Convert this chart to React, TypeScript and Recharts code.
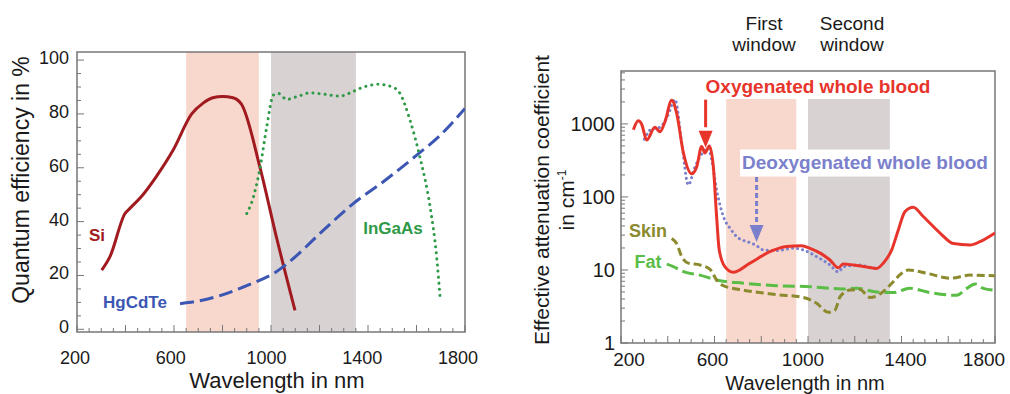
import React from "react";
import {
  LineChart,
  Line,
  XAxis,
  YAxis,
  ReferenceArea,
  ReferenceLine,
  ReferenceDot,
} from "recharts";

const FONT = '"Liberation Sans", Arial, Helvetica, sans-serif';

// ---- left chart: quantum efficiency (%) vs wavelength (nm)
const siCurve = [
  [302, 22], [336, 27], [398, 43], [419, 45], [472, 50], [529, 57],
  [596, 66.5], [673, 80], [720, 84], [760, 86], [800, 86.5], [843, 86],
  [879, 83.5], [955, 60], [1023, 34], [1099, 7],
];
const hgcdteCurve = [
  [625, 9.5], [700, 10.5], [790, 12.5], [880, 15.5], [955, 18.3],
  [1010, 20.7], [1092, 26.3], [1202, 35.6], [1339, 46.7], [1463, 54.8],
  [1601, 64.7], [1697, 72], [1800, 82],
];
const ingaasCurve = [
  [900, 43], [927, 49], [955, 60], [982, 75], [1010, 87], [1030, 87.6],
  [1065, 85.4], [1110, 86.5], [1161, 87.8], [1220, 87.3], [1285, 86.6],
  [1330, 88], [1367, 89.5], [1442, 91], [1500, 90], [1532, 87.6],
  [1573, 77.7], [1614, 64], [1656, 45.5], [1683, 27], [1697, 12],
];

// ---- right chart: attenuation coefficient (cm-1) vs wavelength (nm)
const oxyCurve = [
  [253, 830], [274, 1100], [288, 1000], [310, 600], [345, 900], [367, 780],
  [388, 1070], [417, 2100], [438, 1400], [467, 400], [502, 207], [524, 260],
  [545, 490], [559, 400], [578, 500], [595, 260], [609, 54], [620, 19],
  [645, 11], [680, 9.3], [752, 12.4], [837, 17.8], [909, 21], [973, 21.5],
  [1009, 19.8], [1058, 16.6], [1094, 13.7], [1130, 10.7], [1151, 12.1],
  [1194, 11.7], [1251, 11], [1294, 10.5], [1322, 12.4], [1358, 18.8],
  [1386, 35], [1415, 63], [1450, 72], [1493, 54], [1565, 32], [1622, 23],
  [1693, 22], [1736, 24.4], [1800, 32],
];
const deoxyCurve = [
  [300, 620], [330, 850], [367, 900], [400, 1300], [431, 2150], [460, 540],
  [488, 146], [515, 250], [538, 355], [573, 465], [588, 320], [609, 125],
  [638, 54], [670, 36], [695, 28.6], [752, 23.6], [775, 22], [809, 18.8],
  [866, 18.4], [937, 19.8], [980, 18.8], [1037, 15.2], [1094, 11.7],
  [1130, 9.4], [1151, 11], [1222, 11.7], [1279, 10.5], [1300, 10.8],
];
const skinCurve = [
  [417, 27], [438, 23], [460, 15.2], [488, 12.4], [538, 11.7], [581, 10.2],
  [609, 7.3], [638, 6.1], [723, 5.3], [866, 4.6], [980, 4.2], [1037, 3.5],
  [1087, 2.63], [1116, 2.83], [1137, 4.3], [1180, 5.3], [1222, 5.4],
  [1265, 4.2], [1294, 4.4], [1351, 6.2], [1401, 9], [1429, 10], [1508, 9],
  [1608, 7.7], [1693, 8.5], [1800, 8.3],
];
const fatCurve = [
  [396, 12], [424, 11.1], [467, 9.5], [538, 8.5], [609, 7.3], [723, 6.6],
  [866, 6.1], [1009, 5.9], [1151, 5.5], [1208, 5.6], [1294, 5], [1365, 4.9],
  [1436, 5.6], [1522, 4.9], [1636, 4.5], [1679, 5.6], [1715, 6.4],
  [1750, 5.6], [1800, 5.3],
];

const xTicks: number[] = [];
for (let v = 200; v <= 1800; v += 50) xTicks.push(v);
const qeTicks: number[] = [];
for (let v = 0; v <= 100; v += 5) qeTicks.push(v);
const logTicks = [
  1, 2, 3, 4, 5, 6, 7, 8, 9, 10, 20, 30, 40, 50, 60, 70, 80, 90, 100, 200,
  300, 400, 500, 600, 700, 800, 900, 1000, 2000, 3000, 4000, 5000,
];
const firstWindow = [650, 950];
const secondWindow = [1000, 1350];

const toPts = (c: number[][]) => c.map(([x, y]) => ({ x, y }));

const AXIS = "#777";
const TXT = "#1a1a1a";

function LeftXTick(p: any) {
  const { x, y, payload } = p;
  const v = payload.value;
  const major = v % 200 === 0;
  const shown = (v - 200) % 400 === 0;
  return (
    <g>
      <line x1={x} x2={x} y1={y} y2={y - (major ? 7 : 4)} stroke={AXIS} />
      {shown && (
        <text
          x={x - 2 - (5 * (v - 200)) / 1600}
          y={y + 26}
          textAnchor="middle"
          dominantBaseline="central"
          fontSize={18}
          fontFamily={FONT}
          fill={TXT}
        >
          {v}
        </text>
      )}
    </g>
  );
}

const rightShift: Record<number, number> = { 200: 8, 600: -2, 1000: -5, 1400: 4, 1800: -11 };

function RightXTick(p: any) {
  const { x, y, payload } = p;
  const v = payload.value;
  const major = v % 200 === 0;
  const shown = (v - 200) % 400 === 0;
  return (
    <g>
      <line x1={x} x2={x} y1={y} y2={y - (major ? 7 : 4)} stroke={AXIS} />
      {shown && (
        <text
          x={x + (rightShift[v] || 0)}
          y={y + 16}
          textAnchor="middle"
          dominantBaseline="central"
          fontSize={19}
          fontFamily={FONT}
          fill={TXT}
        >
          {v}
        </text>
      )}
    </g>
  );
}

function QeTick(p: any) {
  const { x, y, payload } = p;
  const v = payload.value;
  const major = v % 20 === 0;
  return (
    <g>
      <line x1={x} x2={x + (major ? 7 : 4)} y1={y} y2={y} stroke={AXIS} />
      {major && (
        <text
          x={x - 8}
          y={y - 2}
          textAnchor="end"
          dominantBaseline="central"
          fontSize={18}
          fontFamily={FONT}
          fill={TXT}
        >
          {v}
        </text>
      )}
    </g>
  );
}

function LogTick(p: any) {
  const { x, y, payload } = p;
  const v = payload.value;
  const major = [1, 10, 100, 1000].includes(v);
  return (
    <g>
      <line x1={x} x2={x + (major ? 7 : 4)} y1={y} y2={y} stroke={AXIS} />
      {major && (
        <text
          x={x - 6}
          y={y}
          textAnchor="end"
          dominantBaseline="central"
          fontSize={20}
          fontFamily={FONT}
          fill={TXT}
        >
          {v}
        </text>
      )}
    </g>
  );
}

function Txt({ x, y, color = TXT, size = 17, bold = false, rotate = false, bg, children }: any) {
  return (
    <div
      style={{
        position: "absolute",
        left: x,
        top: y,
        transform: `translate(-50%, -50%)${rotate ? " rotate(-90deg)" : ""}`,
        whiteSpace: "nowrap",
        fontFamily: FONT,
        fontSize: size,
        fontWeight: bold ? "bold" : "normal",
        color,
        lineHeight: 1.1,
        background: bg,
        textAlign: "center",
      }}
    >
      {children}
    </div>
  );
}

const arrowHead = (color: string) => (p: any) => {
  const { cx, cy } = p;
  return <polygon points={`${cx},${cy} ${cx - 7},${cy - 17} ${cx + 7},${cy - 17}`} fill={color} />;
};

export default function App() {
  return (
    <div
      style={{
        position: "absolute",
        left: 0,
        top: 0,
        width: 1010,
        height: 394,
        overflow: "hidden",
        background: "#fff",
      }}
    >
      <div style={{ position: "absolute", left: 0, top: 0 }}>
        <LineChart width={500} height={394} margin={{ top: 52, right: 35, bottom: 22, left: 27 }}>
          <XAxis
            type="number"
            dataKey="x"
            domain={[200, 1800]}
            ticks={xTicks}
            interval={0}
            tick={LeftXTick}
            tickLine={false}
            axisLine={false}
            tickSize={0}
            tickMargin={0}
            height={40}
            allowDataOverflow
          />
          <YAxis
            type="number"
            dataKey="y"
            domain={[-1, 103]}
            ticks={qeTicks}
            interval={0}
            tick={QeTick}
            tickLine={false}
            axisLine={false}
            tickSize={0}
            tickMargin={0}
            width={50}
            allowDataOverflow
          />
          <ReferenceArea x1={firstWindow[0]} x2={firstWindow[1]} y1={-1} y2={103} fill="#f8d7cc" fillOpacity={1} stroke="none" />
          <ReferenceArea x1={secondWindow[0]} x2={secondWindow[1]} y1={-1} y2={103} fill="#d8d2d2" fillOpacity={1} stroke="none" />
          <Line data={toPts(siCurve)} dataKey="y" type="monotone" stroke="#a01a1f" strokeWidth={3} dot={false} isAnimationActive={false} />
          <Line data={toPts(hgcdteCurve)} dataKey="y" type="monotone" stroke="#3b56b3" strokeWidth={3} strokeDasharray="14 6" dot={false} isAnimationActive={false} />
          <Line data={toPts(ingaasCurve)} dataKey="y" type="monotone" stroke="#2f9a48" strokeWidth={3} strokeDasharray="0.1 6" strokeLinecap="round" dot={false} isAnimationActive={false} />
          <ReferenceArea x1={200} x2={1800} y1={-1} y2={103} fill="none" stroke={AXIS} strokeWidth={1.5} />
        </LineChart>
      </div>

      <div style={{ position: "absolute", left: 510, top: 0 }}>
        <LineChart width={500} height={394} margin={{ top: 71, right: 15, bottom: 11, left: 61 }}>
          <XAxis
            type="number"
            dataKey="x"
            domain={[200, 1800]}
            ticks={xTicks}
            interval={0}
            tick={RightXTick}
            tickLine={false}
            axisLine={false}
            tickSize={0}
            tickMargin={0}
            height={40}
            allowDataOverflow
          />
          <YAxis
            type="number"
            dataKey="y"
            scale="log"
            domain={[1, 5300]}
            ticks={logTicks}
            interval={0}
            tick={LogTick}
            tickLine={false}
            axisLine={false}
            tickSize={0}
            tickMargin={0}
            width={50}
            allowDataOverflow
          />
          <ReferenceArea x1={firstWindow[0]} x2={firstWindow[1]} y1={1} y2={2200} fill="#f8d7cc" fillOpacity={1} stroke="none" />
          <ReferenceArea x1={secondWindow[0]} x2={secondWindow[1]} y1={1} y2={2200} fill="#d8d2d2" fillOpacity={1} stroke="none" />
          <Line data={toPts(fatCurve)} dataKey="y" type="monotone" stroke="#5abd46" strokeWidth={3} strokeDasharray="12 5" dot={false} isAnimationActive={false} />
          <Line data={toPts(skinCurve)} dataKey="y" type="monotone" stroke="#8b8a2e" strokeWidth={3} strokeDasharray="8 4" dot={false} isAnimationActive={false} />
          <Line data={toPts(deoxyCurve)} dataKey="y" type="monotone" stroke="#7b80cc" strokeWidth={3} strokeDasharray="0.1 5" strokeLinecap="round" dot={false} isAnimationActive={false} />
          <Line data={toPts(oxyCurve)} dataKey="y" type="monotone" stroke="#e8352c" strokeWidth={3} dot={false} isAnimationActive={false} />
          <ReferenceLine segment={[{ x: 562, y: 2150 }, { x: 562, y: 900 }]} stroke="#e8352c" strokeWidth={3} />
          <ReferenceDot x={562} y={470} r={1} shape={arrowHead("#e8352c")} />
          <ReferenceLine segment={[{ x: 780, y: 188 }, { x: 780, y: 45 }]} stroke="#7b80cc" strokeWidth={3} strokeDasharray="5 3" />
          <ReferenceDot x={780} y={24.2} r={1} shape={arrowHead("#7b80cc")} />
          <ReferenceArea x1={200} x2={1800} y1={1} y2={5300} fill="none" stroke={AXIS} strokeWidth={1.5} />
        </LineChart>
      </div>

      {/* left chart texts */}
      <Txt x={22} y={180} size={23} rotate>Quantum efficiency in %</Txt>
      <Txt x={277} y={381} size={22}>Wavelength in nm</Txt>
      <Txt x={97} y={236} color="#a01a1f" bold>Si</Txt>
      <Txt x={135} y={303} color="#3b56b3" bold>HgCdTe</Txt>
      <Txt x={393} y={229} color="#2f9a48" bold>InGaAs</Txt>

      {/* right chart texts */}
      <Txt x={542} y={200} size={21} rotate>Effective attenuation coefficient</Txt>
      <Txt x={567} y={200} size={21} rotate>
        in cm<sup style={{ fontSize: 12 }}>-1</sup>
      </Txt>
      <Txt x={805} y={383} size={20}>Wavelength in nm</Txt>
      <Txt x={764} y={35} size={19}>First<br />window</Txt>
      <Txt x={852} y={35} size={19}>Second<br />window</Txt>
      <Txt x={818} y={87} color="#e8352c" bold size={19}>Oxygenated whole blood</Txt>
      <Txt x={865} y={163} color="#7b80cc" bold size={19} bg="#fff">
        <span style={{ padding: "3px 2px", display: "inline-block" }}>Deoxygenated whole blood</span>
      </Txt>
      <Txt x={648} y={232} color="#8b8a2e" bold size={18}>Skin</Txt>
      <Txt x={648} y={263} color="#5abd46" bold size={18}>Fat</Txt>
    </div>
  );
}
